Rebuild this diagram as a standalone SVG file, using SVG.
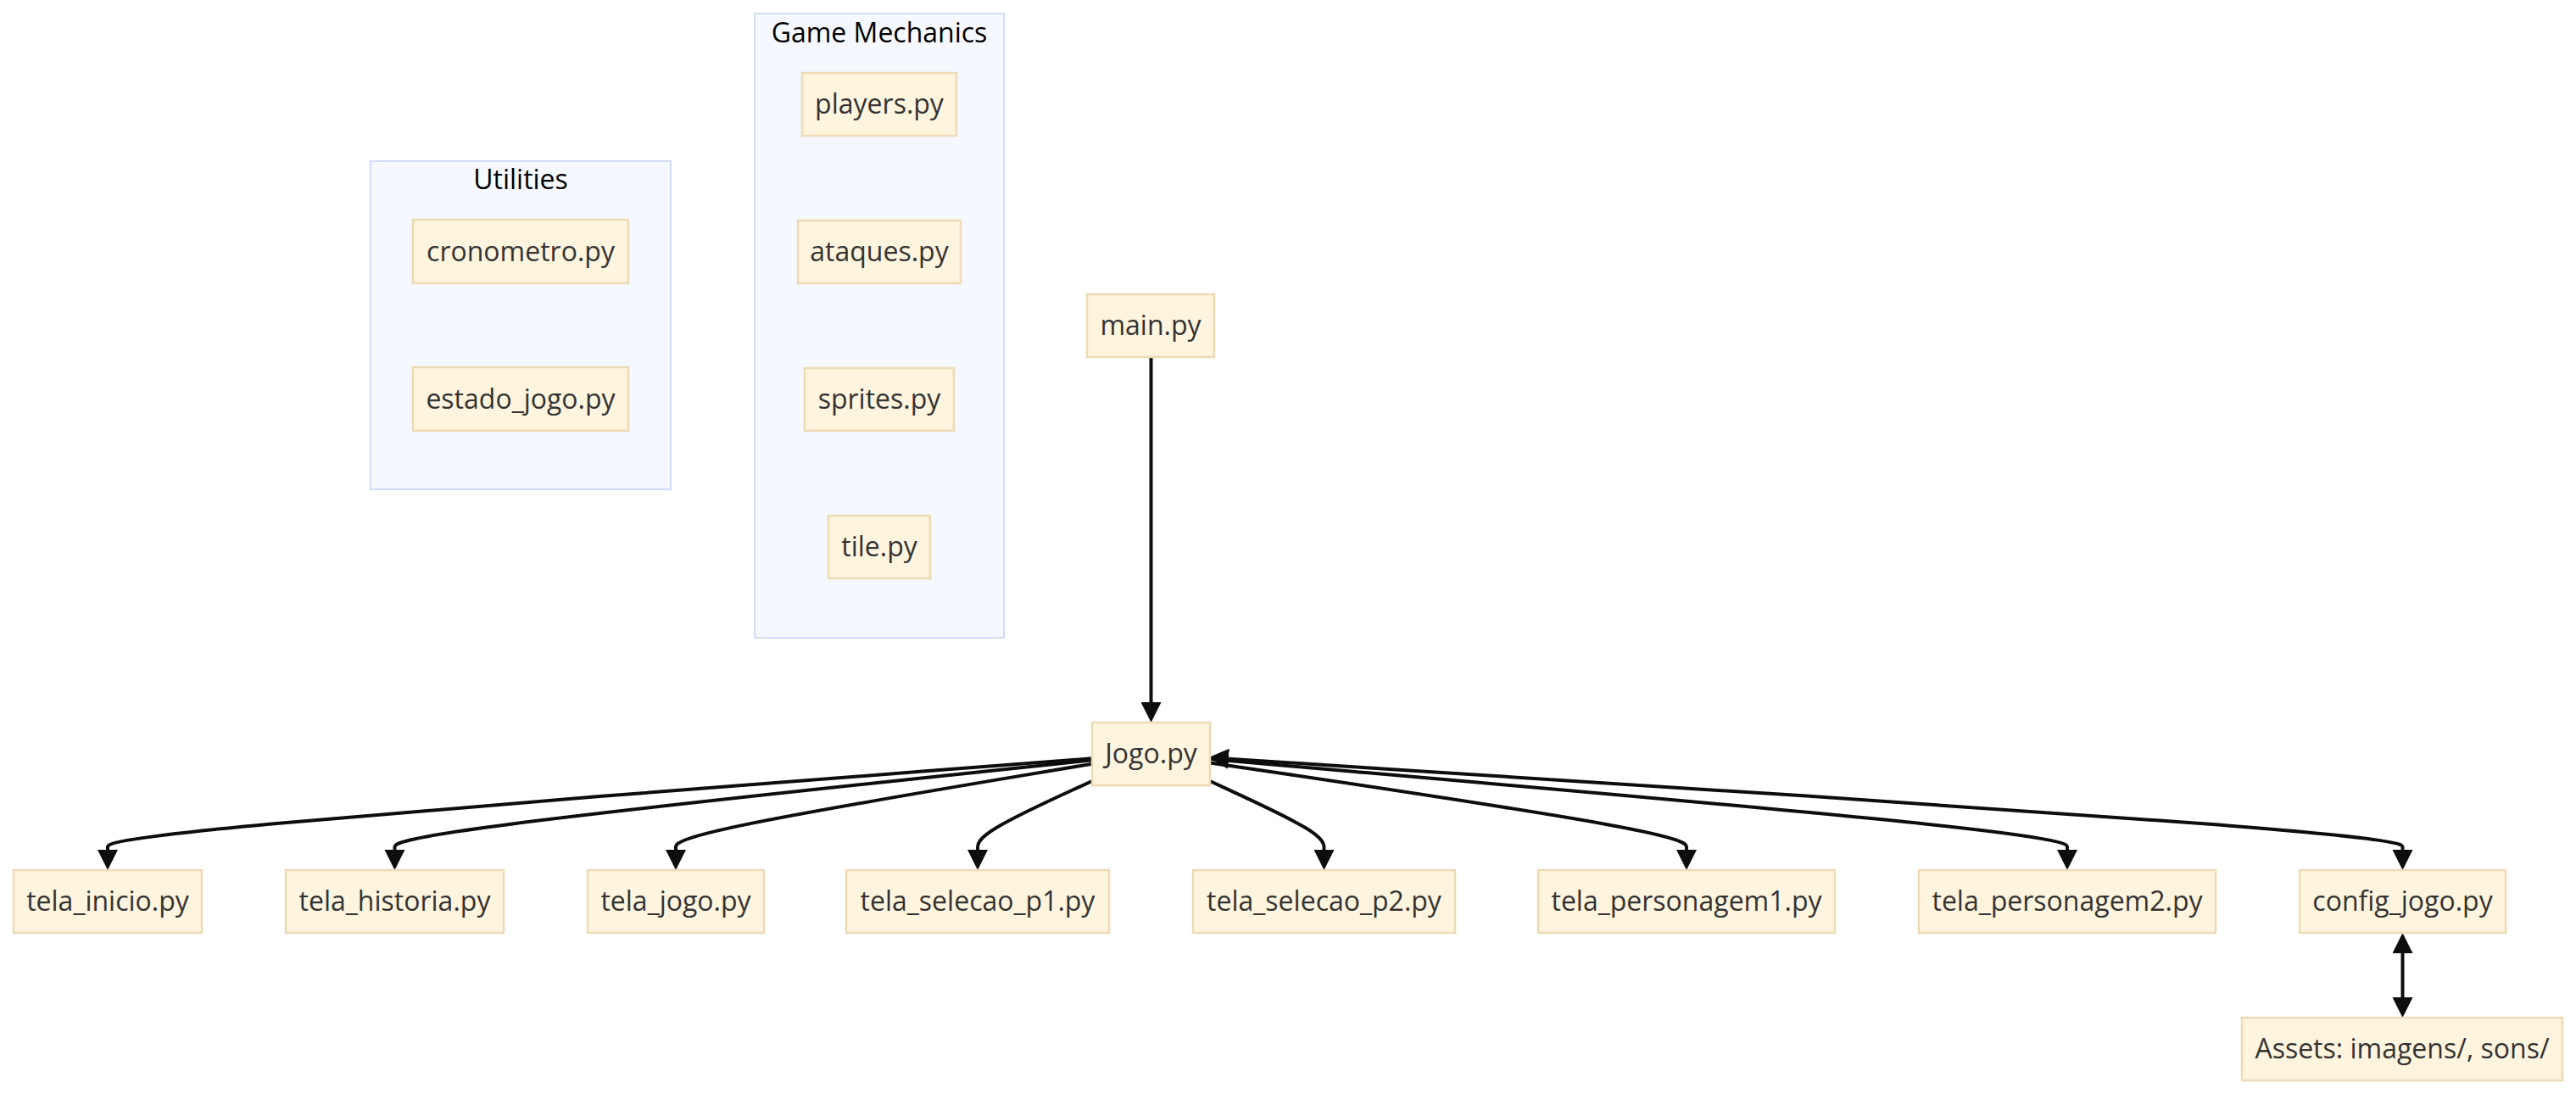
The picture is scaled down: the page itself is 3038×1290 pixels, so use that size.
<svg xmlns="http://www.w3.org/2000/svg" width="3038" height="1290" viewBox="0 0 3038 1290">
  <defs>
    <style>
      .cluster rect { fill: #f5f8ff; stroke: #d2ddf5; stroke-width: 2; }
      .cluster text { font-family: "Open Sans", "Noto Sans", "Liberation Sans", sans-serif; font-size: 32px; fill: #000; text-anchor: middle; }
      .node rect { fill: #fff4de; stroke: #ecdbb5; stroke-width: 2.5; }
      .node text { font-family: "Open Sans", "Noto Sans", "Liberation Sans", sans-serif; font-size: 32px; fill: #333; text-anchor: middle; }
      .edges path { fill: none; stroke: #0d0d0d; stroke-width: 4; }
      .edges .flow { marker-end: url(#arrow); }
      .edges .both { marker-start: url(#arrow); marker-end: url(#arrow); }
    </style>
    <marker id="arrow" viewBox="0 0 24 24" refX="0" refY="12" markerWidth="24" markerHeight="24" markerUnits="userSpaceOnUse" orient="auto-start-reverse">
      <path d="M0,0 L24,12 L0,24 z" fill="#0d0d0d"/>
    </marker>
  </defs>
  <rect width="3038" height="1290" fill="#ffffff"/>

  <!-- subgraphs -->
  <g id="utilities" class="cluster">
    <rect x="437" y="190" width="354" height="387"/>
    <text x="614" y="223">Utilities</text>
  </g>
  <g id="game-mechanics" class="cluster">
    <rect x="890" y="16" width="294" height="736"/>
    <text x="1037" y="50">Game Mechanics</text>
  </g>

  <!-- connectors -->
  <g id="edges" class="edges">
    <path id="main-jogo" class="flow" d="M1357.5,421 L1357.5,828"/>
    <path id="jogo-inicio" class="flow" d="M1288,894.3 L1094.5,909.1 C901,923.9 514,953.4 320.5,971.4 C127,989.3 127,995.7 127,998.8 L127,1002"/>
    <path id="jogo-historia" class="flow" d="M1288,896.3 L1150.9,910.8 C1013.8,925.2 739.7,954.1 602.6,971.7 C465.5,989.3 465.5,995.7 465.5,998.8 L465.5,1002"/>
    <path id="jogo-telajogo" class="flow" d="M1288,900.7 L1206.2,914.4 C1124.3,928.1 960.7,955.6 878.8,972.4 C797,989.3 797,995.7 797,998.8 L797,1002"/>
    <path id="jogo-selecao1" class="flow" d="M1288,921 L1265.5,931.3 C1243,941.6 1198,962.3 1175.5,975.8 C1153,989.3 1153,995.7 1153,998.8 L1153,1002"/>
    <path id="jogo-selecao2" class="flow" d="M1427,921 L1449.4,931.4 C1471.8,941.7 1516.7,962.3 1539.1,975.8 C1561.5,989.3 1561.5,995.7 1561.5,998.8 L1561.5,1002"/>
    <path id="jogo-personagem1" class="flow" d="M1427,899.4 L1520.7,913.3 C1614.3,927.2 1801.7,955.1 1895.3,972.2 C1989,989.3 1989,995.7 1989,998.8 L1989,1002"/>
    <path id="jogo-personagem2" class="flow" d="M1427,895.1 L1595.5,909.7 C1764,924.4 2101,953.7 2269.5,971.5 C2438,989.3 2438,995.7 2438,998.8 L2438,1002"/>
    <path id="jogo-config" class="both" d="M1449,894.8 L1661.4,908.4 C1895.8,923.3 2364.7,953.1 2599.1,971.2 C2833.5,989.3 2833.5,995.7 2833.5,998.8 L2833.5,1002"/>
    <path id="config-assets" class="both" d="M2833.5,1124 L2833.5,1176"/>
  </g>

  <!-- nodes -->
  <g id="cronometro" class="node">
    <rect x="487" y="259" width="254" height="75"/>
    <text x="614" y="308">cronometro.py</text>
  </g>
  <g id="estado_jogo" class="node">
    <rect x="487" y="433" width="254" height="75"/>
    <text x="614" y="482">estado_jogo.py</text>
  </g>
  <g id="players" class="node">
    <rect x="946" y="86" width="182" height="74"/>
    <text x="1037" y="134">players.py</text>
  </g>
  <g id="ataques" class="node">
    <rect x="941" y="260" width="192" height="74"/>
    <text x="1037" y="308">ataques.py</text>
  </g>
  <g id="sprites" class="node">
    <rect x="949" y="434" width="176" height="74"/>
    <text x="1037" y="482">sprites.py</text>
  </g>
  <g id="tile" class="node">
    <rect x="977" y="608" width="120" height="74"/>
    <text x="1037" y="656">tile.py</text>
  </g>
  <g id="main" class="node">
    <rect x="1282" y="347" width="150" height="74"/>
    <text x="1357" y="395">main.py</text>
  </g>
  <g id="jogo" class="node">
    <rect x="1288" y="852" width="139" height="74"/>
    <text x="1357.5" y="900">Jogo.py</text>
  </g>
  <g id="tela_inicio" class="node">
    <rect x="16" y="1026" width="222" height="74"/>
    <text x="127" y="1074">tela_inicio.py</text>
  </g>
  <g id="tela_historia" class="node">
    <rect x="337" y="1026" width="257" height="74"/>
    <text x="465.5" y="1074">tela_historia.py</text>
  </g>
  <g id="tela_jogo" class="node">
    <rect x="693" y="1026" width="208" height="74"/>
    <text x="797" y="1074">tela_jogo.py</text>
  </g>
  <g id="tela_selecao_p1" class="node">
    <rect x="998" y="1026" width="310" height="74"/>
    <text x="1153" y="1074">tela_selecao_p1.py</text>
  </g>
  <g id="tela_selecao_p2" class="node">
    <rect x="1407" y="1026" width="309" height="74"/>
    <text x="1561.5" y="1074">tela_selecao_p2.py</text>
  </g>
  <g id="tela_personagem1" class="node">
    <rect x="1814" y="1026" width="350" height="74"/>
    <text x="1989" y="1074">tela_personagem1.py</text>
  </g>
  <g id="tela_personagem2" class="node">
    <rect x="2263" y="1026" width="350" height="74"/>
    <text x="2438" y="1074">tela_personagem2.py</text>
  </g>
  <g id="config_jogo" class="node">
    <rect x="2712" y="1026" width="243" height="74"/>
    <text x="2833.5" y="1074">config_jogo.py</text>
  </g>
  <g id="assets" class="node">
    <rect x="2644" y="1200" width="378" height="74"/>
    <text x="2833" y="1248">Assets: imagens/, sons/</text>
  </g>
</svg>
